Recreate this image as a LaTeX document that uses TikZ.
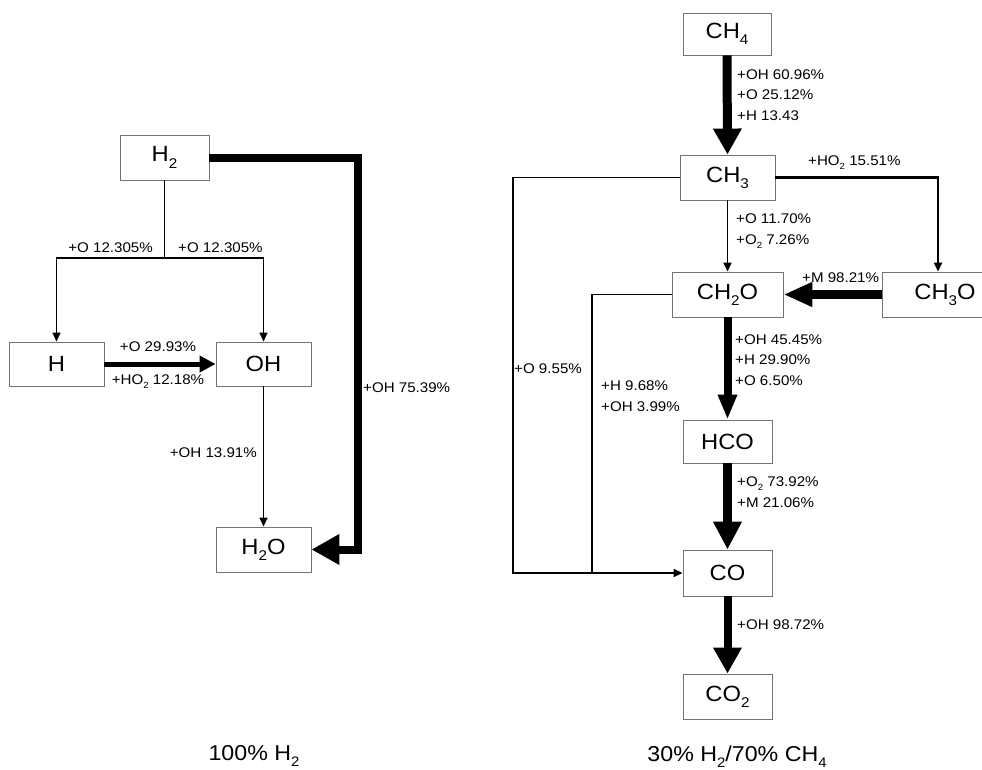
\documentclass[tikz,border=0pt]{standalone}
\usepackage{fontspec}
\usepackage{graphicx}
\setmainfont[FakeStretch=1.08]{Liberation Sans}
\usetikzlibrary{arrows.meta}
\newcommand{\idx}[1]{\raisebox{-0.28em}{\scalebox{0.64}{#1}}}
\tikzset{
  species/.style={draw=black!55, line width=0.9pt, inner sep=0pt, font=\fontsize{22}{24}\selectfont},
  rate/.style={inner sep=0pt, align=left, font=\fontsize{14}{20.5}\selectfont},
  caption/.style={inner sep=0pt, font=\fontsize{21.5}{24}\selectfont},
  flow/.style={line width=1.5pt, -{Triangle[length=9pt,width=8pt]}},
  fat/.style n args={3}{line width=#1, line join=miter, -{Triangle[length=#2,width=#3]}}
}
\begin{document}
\begin{tikzpicture}[x=1pt,y=-1pt]
\useasboundingbox (0,0) rectangle (982,769);
% 100% H2
\node[species, minimum width=89pt, minimum height=45pt] (h2) at (164.5,157.5) {H\idx{2}};
\node[species, minimum width=95pt, minimum height=44pt] (h) at (56.5,364) {H};
\node[species, minimum width=95pt, minimum height=44pt] (oh) at (263.5,364) {OH};
\node[species, minimum width=95pt, minimum height=45pt] (h2o) at (263.5,549.5) {H\idx{2}O};
\coordinate (h2split) at (164.5,258);
\coordinate (h2turn) at (357.5,400);
\draw[line width=1.7pt] (h2.south) -- (h2split);
\draw[flow] (h2split) -| (h.north);
\draw[flow] (h2split) -| (oh.north);
\draw[fat={5pt}{16pt}{16pt}] (h.east) -- (oh.west);
\draw[flow] (oh.south) -- (h2o.north);
\draw[fat={8pt}{28pt}{29pt}] (h2.east) -| (h2turn) |- (h2o.east);
\node[rate, anchor=east] (r1) at (153,248) {+O 12.305\%};
\node[rate, anchor=west] (r2) at (178,248) {+O 12.305\%};
\node[rate] (r3) at (158,347) {+O 29.93\%};
\node[rate] (r4) at (158,382) {+HO\idx{2} 12.18\%};
\node[rate, anchor=west] (r5) at (363,388) {+OH 75.39\%};
\node[rate, anchor=east] (r6) at (257,453) {+OH 13.91\%};
\node[caption] (cap1) at (254,756) {100\% H\idx{2}};
% 30% H2/70% CH4
\node[species, minimum width=88pt, minimum height=42pt] (ch4) at (727,34) {CH\idx{4}};
\node[species, minimum width=95pt, minimum height=45pt] (ch3) at (727.5,177.5) {CH\idx{3}};
\node[species, minimum width=111pt, minimum height=45pt] (ch2o) at (727.5,294.5) {CH\idx{2}O};
\node[species, minimum width=126pt, minimum height=45pt] (ch3o) at (945,294.5) {CH\idx{3}O};
\node[species, minimum width=89pt, minimum height=43pt] (hco) at (727.5,441.5) {HCO};
\node[species, minimum width=89pt, minimum height=46pt] (co) at (727.5,573) {CO};
\node[species, minimum width=89pt, minimum height=45pt] (co2) at (727.5,696.5) {CO\idx{2}};
\coordinate (ch3turn) at (938,178);
\coordinate (ch3loop) at (513,400);
\coordinate (ch2oloop) at (592,400);
\draw[fat={9pt}{26pt}{27pt}] (ch4.south) -- (ch3.north);
\draw[flow, line width=1.7pt] (ch3.south) -- (ch2o.north);
\draw[flow, line width=2.2pt] (ch3.east) -| (ch3turn |- ch3o.north);
\draw[fat={9pt}{29pt}{23pt}] (ch3o.west) -- (ch2o.east);
\draw[fat={8pt}{25pt}{18pt}] (ch2o.south) -- (hco.north);
\draw[fat={9pt}{28pt}{27pt}] (hco.south) -- (co.north);
\draw[fat={8pt}{26pt}{27pt}] (co.south) -- (co2.north);
\draw[flow] (ch3.west) -| (ch3loop) |- (co.west);
\draw[line width=1.5pt] (ch2o.west) -| (ch2oloop |- co.west);
\node[rate, anchor=west] (r7) at (737,95) {+OH 60.96\%\\+O 25.12\%\\+H 13.43};
\node[rate, anchor=west] (r8) at (808,163) {+HO\idx{2} 15.51\%};
\node[rate, anchor=west] (r9) at (736,231) {+O 11.70\%\\+O\idx{2} 7.26\%};
\node[rate, anchor=west] (r10) at (802,278) {+M 98.21\%};
\node[rate, anchor=west] (r11) at (735,360) {+OH 45.45\%\\+H 29.90\%\\+O 6.50\%};
\node[rate, anchor=west] (r12) at (514,369) {+O 9.55\%};
\node[rate, anchor=west] (r13) at (601,396) {+H 9.68\%\\+OH 3.99\%};
\node[rate, anchor=west] (r14) at (737,492) {+O\idx{2} 73.92\%\\+M 21.06\%};
\node[rate, anchor=west] (r15) at (737,625) {+OH 98.72\%};
\node[caption] (cap2) at (737,757) {30\% H\idx{2}/70\% CH\idx{4}};
\end{tikzpicture}
\end{document}
